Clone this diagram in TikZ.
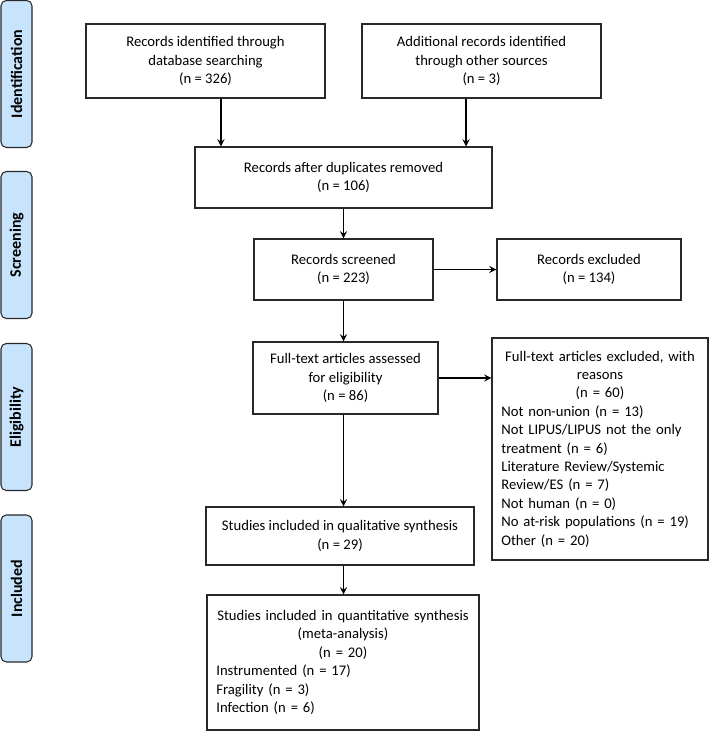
\documentclass[tikz,border=0pt]{standalone}
\usepackage{fontspec}
\setmainfont{Carlito}
\usetikzlibrary{positioning,arrows}
\definecolor{phasefill}{RGB}{200,228,252}
\definecolor{boxline}{RGB}{40,40,40}

\begin{document}
\begin{tikzpicture}[x=0.75pt, y=-0.75pt, >=stealth,
    box/.style={draw=boxline, line width=0.8pt, align=center, inner sep=0pt,
        font=\fontsize{11}{13.8}\selectfont},
    listbox/.style={draw=boxline, line width=0.8pt, align=left, inner sep=7pt,
        font=\fontsize{11}{13.8}\selectfont},
    phase/.style={draw=boxline, fill=phasefill, line width=0.8pt, rounded corners=4pt,
        minimum width=110.25pt, minimum height=23.25pt, rotate=90,
        font=\fontsize{12}{14}\selectfont\bfseries},
    flow/.style={->, line width=1.4pt}]

\useasboundingbox (0,0) rectangle (709,731);

% Phases
\node[phase] (ident) at (16.5,74) {Identification};
\node[phase] (screen) at (16.5,245) {Screening};
\node[phase] (elig) at (16.5,417) {Eligibility};
\node[phase] (incl) at (16.5,588.5) {Included};

% Boxes
\node[box, minimum width=179.25pt, minimum height=55.5pt] (db) at (205.5,61)
    {Records identified through\\database searching\\(n = 326)};
\node[box, minimum width=179.25pt, minimum height=55.5pt] (other) at (481.5,61)
    {Additional records identified\\through other sources\\(n = 3)};
\node[box, minimum width=222.75pt, minimum height=45.75pt] (dup) at (343.5,177.5)
    {Records after duplicates removed\\(n = 106)};
\node[box, minimum width=134.25pt, minimum height=45.75pt] (screened) at (343.5,269.5)
    {Records screened\\(n = 223)};
\node[box, minimum width=138pt, minimum height=45.75pt] (excl) at (589,269.5)
    {Records excluded\\(n = 134)};
\node[box, minimum width=138.75pt, minimum height=54pt] (full) at (345.5,378)
    {Full-text articles assessed\\for eligibility\\(n = 86)};
\node[listbox, text width=148pt, minimum height=166.5pt] (fullexcl) at (600,449)
    {{\centering Full-text articles excluded, with\\reasons\\(n = 60)\par}
     Not non-union (n = 13)\\
     Not LIPUS/LIPUS not the only\\
     treatment (n = 6)\\
     Literature Review/Systemic\\
     Review/ES (n = 7)\\
     Not human (n = 0)\\
     No at-risk populations (n = 19)\\
     Other (n = 20)};
\node[box, minimum width=201pt, minimum height=43.5pt] (qual) at (340,536)
    {Studies included in qualitative synthesis\\(n = 29)};
\node[listbox, text width=190pt, minimum height=101.25pt] (quant) at (343,662.5)
    {{\centering Studies included in quantitative synthesis\\(meta-analysis)\\(n = 20)\par}
     Instrumented (n = 17)\\
     Fragility (n = 3)\\
     Infection (n = 6)};

% Arrows
\draw[flow] ([xshift=11.6pt]db.south) -- ([xshift=11.6pt]db.south |- dup.north);
\draw[flow] ([xshift=-11.6pt]other.south) -- ([xshift=-11.6pt]other.south |- dup.north);
\draw[flow] (dup.south) -- (screened.north);
\draw[flow] (screened.east) -- (excl.west);
\draw[flow] (screened.south) -- (screened.south |- full.north);
\draw[flow] (full.east) -- (full.east -| fullexcl.west);
\draw[flow] (screened.south |- full.south) -- (screened.south |- qual.north);
\draw[flow] (screened.south |- qual.south) -- (screened.south |- quant.north);

\end{tikzpicture}
\end{document}
